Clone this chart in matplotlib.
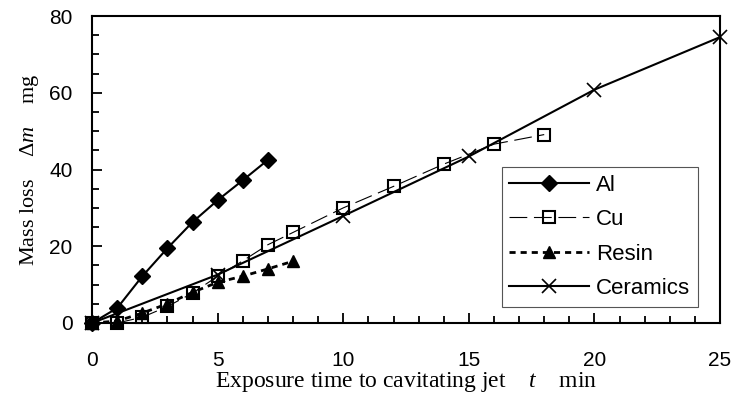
import matplotlib
matplotlib.use('Agg')
import matplotlib.pyplot as plt
from matplotlib.ticker import MultipleLocator

# Данные
al_t = [0, 1, 2, 3, 4, 5, 6, 7]
al_m = [0, 3.9, 12.2, 19.5, 26.3, 32.0, 37.2, 42.5]

cu_t = [0, 1, 2, 3, 4, 5, 6, 7, 8, 10, 12, 14, 16, 18]
cu_m = [0, 0, 1.5, 4.3, 7.8, 12.2, 16.2, 20.4, 23.6, 30.0, 35.6, 41.4, 46.6, 49.1]

resin_t = [0, 1, 2, 3, 4, 5, 6, 7, 8]
resin_m = [0, 0.5, 2.6, 5.0, 8.0, 10.6, 12.2, 14.1, 16.1]

cer_t = [0, 5, 10, 15, 20, 25]
cer_m = [0, 12.6, 27.9, 43.4, 60.8, 74.5]

plt.rcParams['mathtext.fontset'] = 'custom'
plt.rcParams['mathtext.rm'] = 'Liberation Serif'
plt.rcParams['mathtext.it'] = 'Liberation Serif:italic'
plt.rcParams['font.family'] = ['Liberation Sans', 'DejaVu Sans']
for a in ('xtick', 'ytick'):
    plt.rcParams[a + '.direction'] = 'in'
    plt.rcParams[a + '.labelsize'] = 15
    plt.rcParams[a + '.major.size'] = 7
    plt.rcParams[a + '.minor.size'] = 5
    plt.rcParams[a + '.major.width'] = 1.3
    plt.rcParams[a + '.minor.width'] = 1.3
plt.rcParams['xtick.major.pad'] = 20
plt.rcParams['ytick.major.pad'] = 14
plt.rcParams['axes.linewidth'] = 1.5

fig = plt.figure(figsize=(7.31, 4.0), dpi=100)
ax = fig.add_axes([0.126, 0.1925, 0.859, 0.7675])

ax.plot(al_t, al_m, color='black', lw=1.5, marker='D', ms=8,
        mfc='black', mec='black', label='Al', clip_on=False, zorder=4)
ax.plot(cu_t, cu_m, color='black', lw=0.8, dashes=(16, 6), marker='s', ms=9,
        mfc='none', mec='black', mew=1.5, label='Cu', clip_on=False, zorder=3)
ax.plot(resin_t, resin_m, color='black', lw=2, dashes=(2.2, 1.8), marker='^', ms=9,
        mfc='black', mec='black', label='Resin', clip_on=False, zorder=3)
ax.plot(cer_t, cer_m, color='black', lw=1.5, marker='x', ms=10, mew=1.2,
        label='Ceramics', clip_on=False, zorder=4)

ax.set_xlim(0, 25)
ax.set_ylim(0, 80)
ax.xaxis.set_major_locator(MultipleLocator(5))
ax.xaxis.set_minor_locator(MultipleLocator(1))
ax.yaxis.set_major_locator(MultipleLocator(20))
ax.yaxis.set_minor_locator(MultipleLocator(5))

ax.set_xlabel('Exposure time to cavitating jet    $t$    min',
              family='Liberation Serif', fontsize=17, labelpad=0)
ax.set_ylabel(r'Mass loss    $\mathit{Δm}$    mg',
              family='Liberation Serif', fontsize=16, labelpad=6)

leg = ax.legend(loc='lower right', bbox_to_anchor=(0.965, 0.052), borderaxespad=0,
                fancybox=False, framealpha=1, edgecolor='#555555',
                prop={'family': 'Liberation Sans', 'size': 16},
                handlelength=3.6, handletextpad=0.3, labelspacing=0.61,
                borderpad=0.35)
leg.get_frame().set_linewidth(0.8)

fig.savefig('out.png', dpi=100)
